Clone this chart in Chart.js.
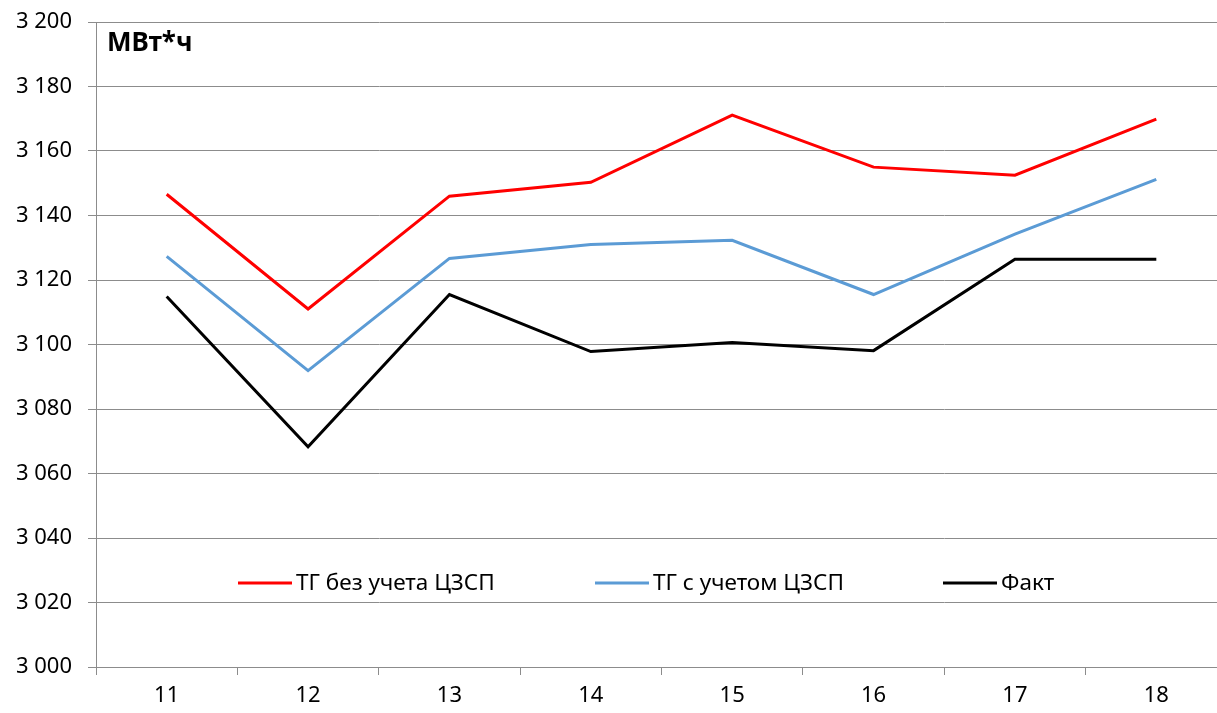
<!DOCTYPE html>
<html>
<head>
<meta charset="utf-8">
<script src="https://cdn.jsdelivr.net/npm/chart.js@4/dist/chart.umd.min.js"></script>
<style>
  html, body { margin: 0; padding: 0; background: #fff; overflow: hidden; }
  #wrap { width: 1232px; height: 713px; }
</style>
</head>
<body>
<div id="wrap"><canvas id="chart"></canvas></div>
<script>
const days = ["11", "12", "13", "14", "15", "16", "17", "18"];
const tgNoCzsp = [3146.6, 3111.0, 3146.0, 3150.3, 3171.1, 3155.0, 3152.5, 3169.9];
const tgWithCzsp = [3127.3, 3091.9, 3126.7, 3131.0, 3132.3, 3115.5, 3134.2, 3151.2];
const fact = [3114.9, 3068.3, 3115.5, 3097.8, 3100.6, 3098.1, 3126.4, 3126.4];
const unitLabel = "МВт*ч";
const seriesNames = ["ТГ без учета ЦЗСП", "ТГ с учетом ЦЗСП", "Факт"];

const font = "'Noto Sans', 'Open Sans', sans-serif";
const gridColor = "#8c8c8c";

// title inside the plot + legend drawn inside the chart area
const overlay = {
  id: "overlay",
  afterDraw(chart) {
    const ctx = chart.ctx;
    const area = chart.chartArea;
    ctx.save();
    ctx.fillStyle = "#000";
    ctx.font = "bold 26px " + font;
    ctx.textBaseline = "middle";
    ctx.fillText(unitLabel, area.left + 11, area.top + 22);

    const legendX = [238, 595, 943];
    const y = 583;
    ctx.font = "22.5px " + font;
    chart.data.datasets.forEach((ds, i) => {
      ctx.strokeStyle = ds.borderColor;
      ctx.lineWidth = 3;
      ctx.beginPath();
      ctx.moveTo(legendX[i], y);
      ctx.lineTo(legendX[i] + 54, y);
      ctx.stroke();
      ctx.fillStyle = "#000";
      ctx.fillText(ds.label, legendX[i] + 58, y + 1);
    });
    ctx.restore();
  }
};

new Chart(document.getElementById("chart"), {
  type: "line",
  data: {
    labels: days,
    datasets: [
      { label: seriesNames[0], data: tgNoCzsp, borderColor: "#ff0000" },
      { label: seriesNames[1], data: tgWithCzsp, borderColor: "#5b9bd5" },
      { label: seriesNames[2], data: fact, borderColor: "#000000" }
    ].map(d => Object.assign(d, { borderWidth: 3, pointRadius: 0, tension: 0, fill: false }))
  },
  options: {
    responsive: true,
    maintainAspectRatio: false,
    animation: false,
    layout: { padding: { top: 22, right: 5, left: 0, bottom: 0 } },
    plugins: { legend: { display: false }, tooltip: { enabled: false } },
    scales: {
      x: {
        offset: true,
        afterFit: s => { s.height = 46; },
        grid: { offset: true, drawOnChartArea: false, drawTicks: true, tickLength: 8, color: gridColor },
        border: { color: gridColor },
        ticks: { color: "#000", font: { family: font, size: 22 }, padding: 8 }
      },
      y: {
        min: 3000,
        max: 3200,
        afterFit: s => { s.width = 96; s.paddingTop = 0; s.paddingBottom = 0; },
        ticks: {
          stepSize: 20,
          color: "#000",
          font: { family: font, size: 22 },
          padding: 16,
          callback: v => String(v).replace(/\B(?=(\d{3})+$)/g, " ")
        },
        grid: { color: gridColor, tickLength: 8 },
        border: { color: gridColor }
      }
    }
  },
  plugins: [overlay]
});
</script>
</body>
</html>
